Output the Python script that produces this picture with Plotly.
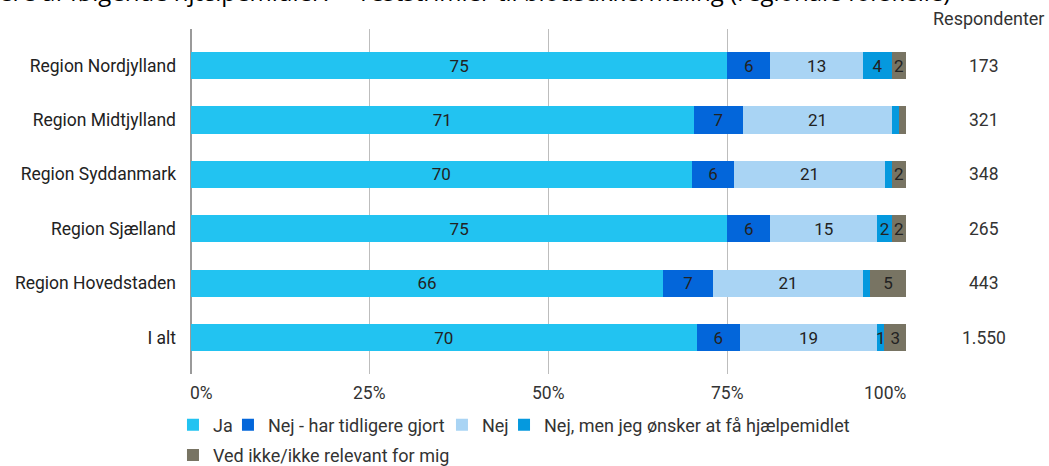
import plotly.graph_objects as go

# Survey data: use of test strips for blood sugar measurement, by region (%)
categories = ["Region Nordjylland", "Region Midtjylland", "Region Syddanmark",
              "Region Sjælland", "Region Hovedstaden", "I alt"]
ja = [75, 71, 70, 75, 66, 70]
nej_tidligere = [6, 7, 6, 6, 7, 6]
nej = [13, 21, 21, 15, 21, 19]
nej_onsker = [4, 1, 1, 2, 1, 1]
ved_ikke = [2, 1, 2, 2, 5, 3]
respondenter = ["173", "321", "348", "265", "443", "1.550"]

# Segment labels (blank where the segment is too narrow to carry a number)
nej_onsker_labels = ["4", "", "", "2", "", "1"]
ved_ikke_labels = ["2", "", "2", "2", "5", "3"]

x_ticks = [0, 25, 50, 75, 100]
x_tick_text = ["0%", "25%", "50%", "75%", "100%"]

FONT = "Roboto"
LABEL_SIZE = 17.5

# name, values, labels, colour, legend id
series = [
    ("Ja", ja, [str(v) for v in ja], "#22C3F1", "legend"),
    ("Nej - har tidligere gjort", nej_tidligere, [str(v) for v in nej_tidligere], "#0366DA", "legend2"),
    ("Nej", nej, [str(v) for v in nej], "#A9D4F4", "legend3"),
    ("Nej, men jeg ønsker at få hjælpemidlet", nej_onsker, nej_onsker_labels, "#0599DE", "legend4"),
    ("Ved ikke/ikke relevant for mig", ved_ikke, ved_ikke_labels, "#787463", "legend5"),
]

fig = go.Figure()
for name, vals, labels, color, leg in series:
    fig.add_trace(go.Bar(
        y=categories, x=vals, name=name, orientation="h",
        marker=dict(color=color, line=dict(width=0)),
        text=labels, textposition="inside", insidetextanchor="middle",
        textangle=0, textfont=dict(family=FONT, size=17, color="#222222"),
        width=0.5, legend=leg, hoverinfo="name+x",
    ))

annotations = []
# Respondent counts to the right of the bars
for cat, n in zip(categories, respondenter):
    annotations.append(dict(
        xref="paper", yref="y", x=1.109, y=cat, text=n, showarrow=False,
        xanchor="center", yanchor="middle",
        font=dict(family=FONT, size=LABEL_SIZE, color="#333333")))
annotations.append(dict(
    xref="paper", yref="paper", x=1.1147, y=1.029, text="Respondenter",
    showarrow=False, xanchor="center", yanchor="middle",
    font=dict(family=FONT, size=18, color="#333333")))

# Percentage tick labels, end labels kept inside the axis span
for v, t in zip(x_ticks, x_tick_text):
    if v == x_ticks[0]:
        anchor, shift = "left", -3
    elif v == x_ticks[-1]:
        anchor, shift = "right", 3
    else:
        anchor, shift = "center", 0
    annotations.append(dict(
        xref="x", yref="paper", x=v, y=-0.055, text=t, showarrow=False,
        xanchor=anchor, yanchor="middle", xshift=shift,
        font=dict(family=FONT, size=LABEL_SIZE, color="#333333")))

# Chart heading, running off the top edge
annotations.append(dict(
    xref="paper", yref="paper", x=-0.272, y=1.1078,
    text="ere af følgende hjælpemidler? – Teststrimler til blodsukkermåling (regionale forskelle)",
    showarrow=False, xanchor="left", yanchor="middle",
    font=dict(family="Open Sans", size=24, color="#000000")))

legend_font = dict(family=FONT, size=18, color="#333333")
legend_common = dict(orientation="h", xanchor="left", yanchor="middle",
                     font=legend_font, bgcolor="rgba(0,0,0,0)")
row1_y, row2_y = -0.148, -0.2355

fig.update_layout(
    width=1049, height=466,
    margin=dict(l=191, r=143, t=29, b=92, autoexpand=False),
    barmode="stack", barnorm="percent",
    plot_bgcolor="white", paper_bgcolor="white",
    uniformtext=dict(minsize=16, mode="show"),
    font=dict(family=FONT, size=16, color="#222222"),
    xaxis=dict(range=[0, 100], tickvals=x_ticks, showticklabels=False,
               showgrid=True, gridcolor="#BDBDBD", gridwidth=1,
               zeroline=True, zerolinecolor="#9A9A9A", zerolinewidth=2,
               ticks="", fixedrange=True),
    yaxis=dict(categoryorder="array", categoryarray=categories,
               range=[5.671, -0.671], showgrid=False, zeroline=False,
               ticks="", ticklabelstandoff=14,
               tickfont=dict(family=FONT, size=LABEL_SIZE, color="#222222")),
    legend=dict(x=-0.0252, y=row1_y, **legend_common),
    legend2=dict(x=0.0517, y=row1_y, **legend_common),
    legend3=dict(x=0.3510, y=row1_y, **legend_common),
    legend4=dict(x=0.4378, y=row1_y, **legend_common),
    legend5=dict(x=-0.0252, y=row2_y, **legend_common),
    annotations=annotations,
    showlegend=True,
)

fig.write_html("out.html")
